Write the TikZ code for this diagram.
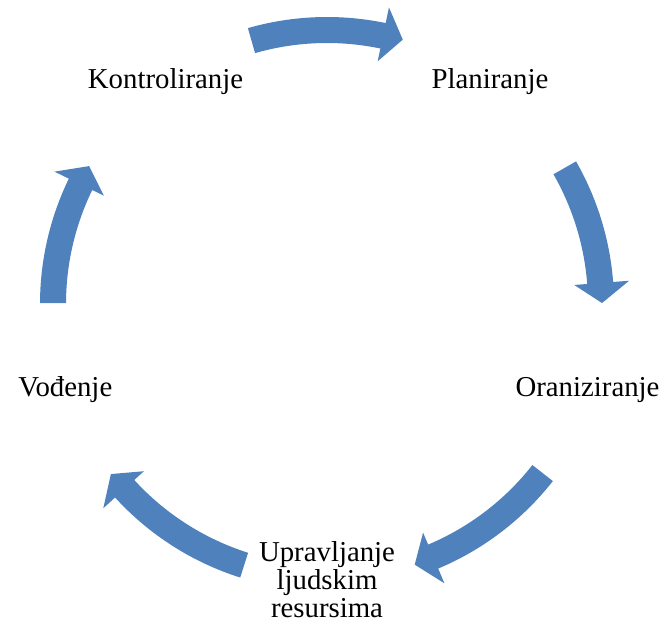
\documentclass[tikz,border=0pt]{standalone}
\usepackage{fontspec}
\setmainfont{Liberation Serif}
\definecolor{cycleblue}{HTML}{4F81BD}
\newcommand{\cyclearrow}[2]{%
  \pgfmathsetmacro{\hb}{#2+4.2}%
  \fill[arrowfill] (#1:287) arc[start angle=#1, end angle=\hb, radius=287]
    -- (\hb:303) -- (#2:275) -- (\hb:248) -- (\hb:261)
    arc[start angle=\hb, end angle=#1, radius=261] -- cycle;}
\tikzset{
  arrowfill/.style={fill=cycleblue},
  lbl/.style={inner sep=0pt, font=\fontsize{14.4}{14}\selectfont},
}
\begin{document}
\begin{tikzpicture}[x=0.5pt,y=0.5pt]
\useasboundingbox (0,0) rectangle (664,623);
% labels
\node[lbl, anchor=base] (plan) at (490,535) {Planiranje};
\node[lbl, anchor=base] (org) at (587.5,227) {Oraniziranje};
\node[lbl, anchor=north, align=center] (upr) at (327,81.5) {Upravljanje\\ljudskim\\resursima};
\node[lbl, anchor=base west] (vod) at (18,227) {Vođenje};
\node[lbl, anchor=base] (kon) at (165.5,535) {Kontroliranje};
% cycle arrows
\begin{scope}[shift={(327,319)}]
\cyclearrow{106}{74}
\cyclearrow{29.8}{0.2}
\cyclearrow{-38.1}{-71.4}
\cyclearrow{-107.6}{-141.8}
\cyclearrow{179.8}{149.9}
\end{scope}
\end{tikzpicture}
\end{document}
